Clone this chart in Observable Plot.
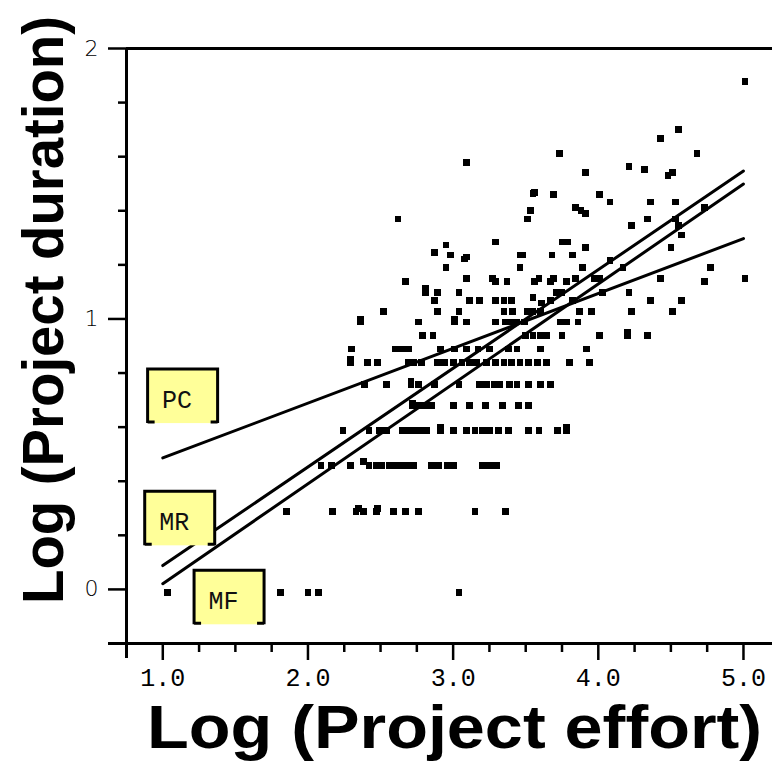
<!DOCTYPE html>
<html><head><meta charset="utf-8">
<script src="https://cdn.jsdelivr.net/npm/d3@7"></script>
<script src="https://cdn.jsdelivr.net/npm/@observablehq/plot@0.6"></script>
<style>body{margin:0;background:#fff}</style>
</head><body><div id="chart"></div>
<script>
// Log(duration) rows and the log(effort) values of the projects on each row
const rowDuration = [0, 0.30, 0.47, 0.60, 0.69, 0.77, 0.85, 0.90, 0.95, 1.00, 1.04, 1.08, 1.11, 1.15, 1.16, 1.20];
const rowEffort = [
  [1.01, 1.79, 1.98, 2.05, 3.02],
  [1.83, 2.15, 2.31, 2.36, 2.45, 2.57, 2.65, 2.74, 3.13, 3.34],
  [2.07, 2.14, 2.27, 2.40, 2.45, 2.49, 2.54, 2.58, 2.63, 2.67, 2.71, 2.83, 2.88, 2.94, 2.98, 3.18, 3.23, 3.28],
  [2.22, 2.40, 2.47, 2.52, 2.63, 2.68, 2.72, 2.76, 2.80, 2.89, 2.98, 3.07, 3.13, 3.18, 3.23, 3.29, 3.36, 3.50, 3.57, 3.70, 3.76],
  [2.70, 2.74, 2.79, 2.83, 2.98, 3.09, 3.20, 3.32, 3.43, 3.50],
  [2.37, 2.52, 2.69, 2.74, 2.85, 3.02, 3.16, 3.21, 3.26, 3.30, 3.37, 3.42, 3.50, 3.58, 3.65],
  [2.27, 2.39, 2.46, 2.67, 2.71, 2.76, 2.87, 2.92, 2.98, 3.04, 3.09, 3.14, 3.21, 3.27, 3.33, 3.38, 3.44, 3.50, 3.56, 3.62, 3.78, 3.92],
  [2.28, 2.58, 2.63, 2.67, 2.89, 2.99, 3.07, 3.15, 3.23, 3.36, 3.42, 3.58, 3.90],
  [2.77, 2.84, 3.48, 3.53, 3.58, 3.62, 3.73, 3.99, 4.18, 4.32],
  [2.34, 2.74, 2.99, 3.07, 3.27, 3.34, 3.38, 3.42, 3.47, 3.72, 3.76, 3.84],
  [2.50, 2.87, 3.02, 3.33, 3.39, 3.49, 3.53, 3.58, 3.85, 3.93, 4.21, 4.49],
  [2.85, 3.09, 3.16, 3.27, 3.33, 3.38, 3.65, 3.80, 4.34, 4.55],
  [2.79, 2.87, 3.02, 3.69, 3.73, 4.01, 4.19],
  [2.65, 3.27, 3.35, 3.54, 3.65, 3.76, 4.71],
  [3.07, 3.25, 3.57, 3.67, 3.82, 3.95, 3.99, 4.41, 4.99],
  [2.93, 3.44, 3.87, 4.15, 4.75]
];
// remaining projects: [log effort, log duration]
const otherProjects = [
  [2.33, 0.31], [2.46, 0.31], [2.36, 0.485], [2.89, 0.61], [3.76, 0.61], [2.70, 0.70], [2.69, 0.78],
  [2.27, 0.86], [4.18, 0.96], [2.34, 1.01], [2.99, 1.01], [3.53, 1.09], [3.59, 1.07], [2.79, 1.125],
  [2.85, 1.256], [2.96, 1.248], [3.06, 1.233], [3.07, 1.24], [3.44, 1.248], [3.46, 1.248], [3.66, 1.248],
  [3.80, 1.248], [3.89, 1.274], [4.48, 1.274], [4.06, 1.226], [2.93, 1.285], [3.27, 1.296], [3.73, 1.296],
  [3.77, 1.296], [4.55, 1.322], [4.21, 1.356], [4.53, 1.356], [2.60, 1.381], [3.49, 1.381], [4.32, 1.381],
  [4.51, 1.381], [3.82, 1.422], [3.86, 1.411], [3.89, 1.40], [3.51, 1.411], [4.71, 1.422], [4.06, 1.444],
  [4.34, 1.444], [4.51, 1.444], [3.53, 1.474], [3.54, 1.48], [3.67, 1.470], [3.99, 1.470], [4.46, 1.541],
  [4.49, 1.552], [3.89, 1.552], [4.30, 1.563], [4.19, 1.574], [3.07, 1.589], [3.71, 1.622], [4.66, 1.622],
  [4.41, 1.678], [4.53, 1.711], [4.99, 1.889]
];
// fitted lines: log duration at log effort 1.0 and 5.0
const fitNames = ["PC", "MR", "MF"];
const fitAtEffort1 = [0.486, 0.088, 0.021];
const fitAtEffort5 = [1.297, 1.547, 1.499];
// label boxes (centre, in data units)
const labelNames = ["PC", "MR", "MF"];
const labelEffort = [1.14, 1.12, 1.46];
const labelDuration = [0.713, 0.261, -0.031];
// ticks
const xMajorTicks = [1, 2, 3, 4, 5];
const xMinorTicks = [1.25, 1.5, 1.75, 2.25, 2.5, 2.75, 3.25, 3.5, 3.75, 4.25, 4.5, 4.75];
const yMajorTicks = [0, 1, 2];
const yMinorTicks = [0.2, 0.4, 0.6, 0.8, 1.2, 1.4, 1.6, 1.8];
const xTitle = "Log (Project effort)";
const yTitle = "Log (Project duration)";

const projects = [];
rowDuration.forEach((d, i) => rowEffort[i].forEach(e => projects.push({effort: e, duration: d})));
otherProjects.forEach(([e, d]) => projects.push({effort: e, duration: d}));

const fits = [];
fitNames.forEach((n, i) => {
  fits.push({name: n, effort: 1, duration: fitAtEffort1[i]});
  fits.push({name: n, effort: 5, duration: fitAtEffort5[i]});
});
const labels = labelNames.map((n, i) => ({name: n, effort: labelEffort[i], duration: labelDuration[i]}));

function boxRender(index, scales, values, dimensions, context, next) {
  const g = next(index, scales, values, dimensions, context);
  const ns = "http://www.w3.org/2000/svg";
  const wrap = document.createElementNS(ns, "g");
  for (const i of index) {
    const cx = values.x[i], cy = values.y[i];
    const w = 70, h = 54, l = cx - w / 2, t = cy - h / 2, r = l + w, b = t + h;
    const rect = document.createElementNS(ns, "rect");
    rect.setAttribute("x", l); rect.setAttribute("y", t);
    rect.setAttribute("width", w); rect.setAttribute("height", h);
    rect.setAttribute("fill", "#ffff99");
    wrap.append(rect);
    const p = document.createElementNS(ns, "path");
    p.setAttribute("d", `M${l},${b}V${t}H${r}V${b}M${l},${b - 1}h7M${r},${b - 1}h-7`);
    p.setAttribute("fill", "none"); p.setAttribute("stroke", "black"); p.setAttribute("stroke-width", 3);
    wrap.append(p);
  }
  wrap.append(g);
  return wrap;
}

const chart = Plot.plot({
  width: 772, height: 762,
  marginLeft: 126, marginRight: 0, marginTop: 48, marginBottom: 119,
  x: {domain: [0.75, 5.2]},
  y: {domain: [-0.2, 2]},
  style: {background: "white", overflow: "visible"},
  marks: [
    Plot.axisX({ticks: xMajorTicks, tickSize: 17, tickPadding: 8, tickFormat: d3.format(".1f"),
      fontFamily: "Liberation Mono", fontSize: 25, strokeWidth: 2.5, label: null}),
    Plot.axisX({ticks: xMinorTicks, tickSize: 9, tickFormat: () => "", strokeWidth: 2.5, label: null}),
    Plot.axisX({ticks: [0.75], tickSize: 15, tickFormat: () => "", strokeWidth: 3, label: null}),
    Plot.axisY({ticks: yMajorTicks, tickSize: 18, tickPadding: 10, tickFormat: d3.format("d"),
      fontFamily: "DejaVu Sans", fontWeight: 200, fontSize: 22, strokeWidth: 2.5, label: null}),
    Plot.axisY({ticks: yMinorTicks, tickSize: 8, tickFormat: () => "", strokeWidth: 2.5, label: null}),
    Plot.axisY({ticks: [-0.2], tickSize: 18, tickFormat: () => "", strokeWidth: 3, label: null}),
    Plot.ruleX([0.75], {strokeWidth: 3}),
    Plot.ruleY([-0.2, 2], {strokeWidth: 3}),
    Plot.dot(projects, {x: "effort", y: "duration", symbol: "square", r: 3.8, fill: "black",
      stroke: "none", dx: 3, dy: 3, shapeRendering: "crispEdges"}),
    Plot.line(fits, {x: "effort", y: "duration", z: "name", stroke: "black", strokeWidth: 3}),
    Plot.text(labels, {x: "effort", y: "duration", text: "name", dx: -6, dy: 3,
      fontFamily: "Liberation Mono", fontSize: 25, fill: "#111", render: boxRender}),
    Plot.text([xTitle], {text: d => d, frameAnchor: "bottom", dx: 5, dy: 85, lineAnchor: "middle",
      fontFamily: "Liberation Sans", fontWeight: "bold", fontSize: 62}),
    Plot.text([yTitle], {text: d => d, frameAnchor: "left", textAnchor: "middle", rotate: -90, dx: -82, dy: -36,
      lineAnchor: "middle", fontFamily: "Liberation Sans", fontWeight: "bold", fontSize: 57})
  ]
});
chart.querySelectorAll("text").forEach(t => {
  if (t.textContent === xTitle) { t.setAttribute("textLength", 615); t.setAttribute("lengthAdjust", "spacingAndGlyphs"); }
  if (t.textContent === yTitle) { t.setAttribute("textLength", 588); t.setAttribute("lengthAdjust", "spacingAndGlyphs"); }
});
document.getElementById("chart").append(chart);
</script>
</body></html>
